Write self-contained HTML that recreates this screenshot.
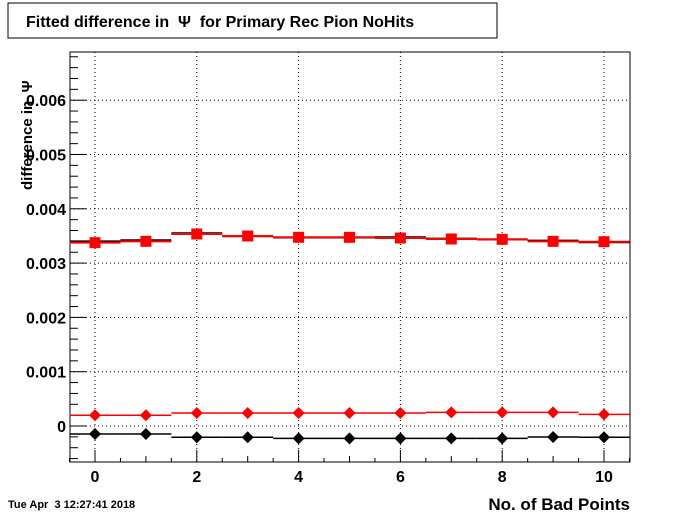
<!DOCTYPE html>
<html><head><meta charset="utf-8"><style>
body{margin:0;background:#fff;}
svg{display:block;font-family:"Liberation Sans",sans-serif;}
text{white-space:pre;}
</style></head><body>
<svg id="c" width="700" height="514">
<rect x="8" y="3" width="489" height="35" fill="#fff" stroke="#000"/>
<text x="26" y="27" font-size="16" font-weight="bold" xml:space="preserve">Fitted difference in  Ψ  for Primary Rec Pion NoHits</text>
<rect x="70" y="52" width="560" height="410" fill="none" stroke="#000"/>
<g id="grid"></g>
<g id="axes"></g>
<g id="series"></g>
<text transform="translate(32,190) rotate(-90)" font-size="15" font-weight="bold" xml:space="preserve">difference in  Ψ</text>
<text x="630" y="510" font-size="17" font-weight="bold" text-anchor="end">No. of Bad Points</text>
<text x="8" y="508" font-size="11" font-weight="bold" xml:space="preserve">Tue Apr  3 12:27:41 2018</text>
</svg>
<script>
const bins=[0,1,2,3,4,5,6,7,8,9,10];
const blackSq=[0.003401,0.00342,0.003549,0.003495,0.003471,0.003471,0.003475,0.00345,0.003438,0.003413,0.003383];
const redSq=[0.003376,0.003401,0.003536,0.003499,0.003475,0.003475,0.003462,0.003444,0.003438,0.003401,0.003394];
const redDia=[0.000197,0.000197,0.000239,0.000239,0.000239,0.000239,0.000239,0.000252,0.000252,0.000252,0.000215];
const blackDia=[-0.000147,-0.000147,-0.000208,-0.000208,-0.000227,-0.000227,-0.000227,-0.000227,-0.000227,-0.000203,-0.000208];
const xTicks=[0,2,4,6,8,10];
const yTicks=[0,0.001,0.002,0.003,0.004,0.005,0.006];
const yLabels=["0","0.001","0.002","0.003","0.004","0.005","0.006"];
const X=v=>95+(v)*50.9;
const Y=v=>426-v*54300;
const NS="http://www.w3.org/2000/svg";
function mk(tag,parent,attrs){const e=document.createElementNS(NS,tag);for(const k in attrs)e.setAttribute(k,attrs[k]);document.getElementById(parent).appendChild(e);return e;}
xTicks.forEach((t,i)=>{
 const g=mk('line','grid',{x1:X(t),x2:X(t),y1:52,y2:462,stroke:'#000','stroke-dasharray':'1,3'});
 
 
 const l=mk('text','axes',{x:X(t),y:482,'font-size':16,'font-weight':'bold','text-anchor':'middle'});
 l.textContent=t;
 
 
});
for(let v=-0.5;v<=10.5;v+=0.5){
 const len=(Math.abs(v-Math.round(v))<1e-9)?(Math.round(v)%2===0?12:6):4;
 const tk=mk('line','axes',{x1:X(v),x2:X(v),y1:462,y2:462-len,stroke:'#000'});
 
 
}
yTicks.forEach((t,i)=>{
 const g=mk('line','grid',{x1:70,x2:630,y1:Y(t),y2:Y(t),stroke:'#000','stroke-dasharray':'1,3'});
 
 
 const l=mk('text','axes',{x:66,y:Y(t)+6,'font-size':16,'font-weight':'bold','text-anchor':'end'});
 l.textContent=yLabels[i];
 
 
});
for(let k=-3;k<=34;k++){
 const v=k*0.0002;const y=Y(v);if(y<52||y>462)continue;
 const tk=mk('line','axes',{x1:70,x2:70+(k%5===0?16:8),y1:y,y2:y,stroke:'#000'});
 
 
}
function steps(vals,color,name,w){
 vals.forEach((v,i)=>{
  const s=mk('line','series',{x1:X(bins[i]-0.5),x2:X(bins[i]+0.5),y1:Y(v),y2:Y(v),stroke:color,'stroke-width':w});
  
  
 });
}
steps(blackSq,'#000','black-square-hist',2);
steps(redSq,'#f00','red-square-hist',2);
steps(blackDia,'#000','black-diamond-hist',1.5);
steps(redDia,'#f00','red-diamond-hist',1.5);
redSq.forEach((v,i)=>{
 const m=mk('rect','series',{x:X(bins[i])-5.5,y:Y(v)-5.5,width:11,height:11,fill:'#f00'});
 
 
});
function dia(vals,color,name){
 vals.forEach((v,i)=>{
  const x=X(bins[i]),y=Y(v);
  const m=mk('polygon','series',{points:`${x},${y-6} ${x+6},${y} ${x},${y+6} ${x-6},${y}`,fill:color});
  
  
 });
}
dia(redDia,'#f00','red-diamond-marker');
dia(blackDia,'#000','black-diamond-marker');
</script>
</body></html>
